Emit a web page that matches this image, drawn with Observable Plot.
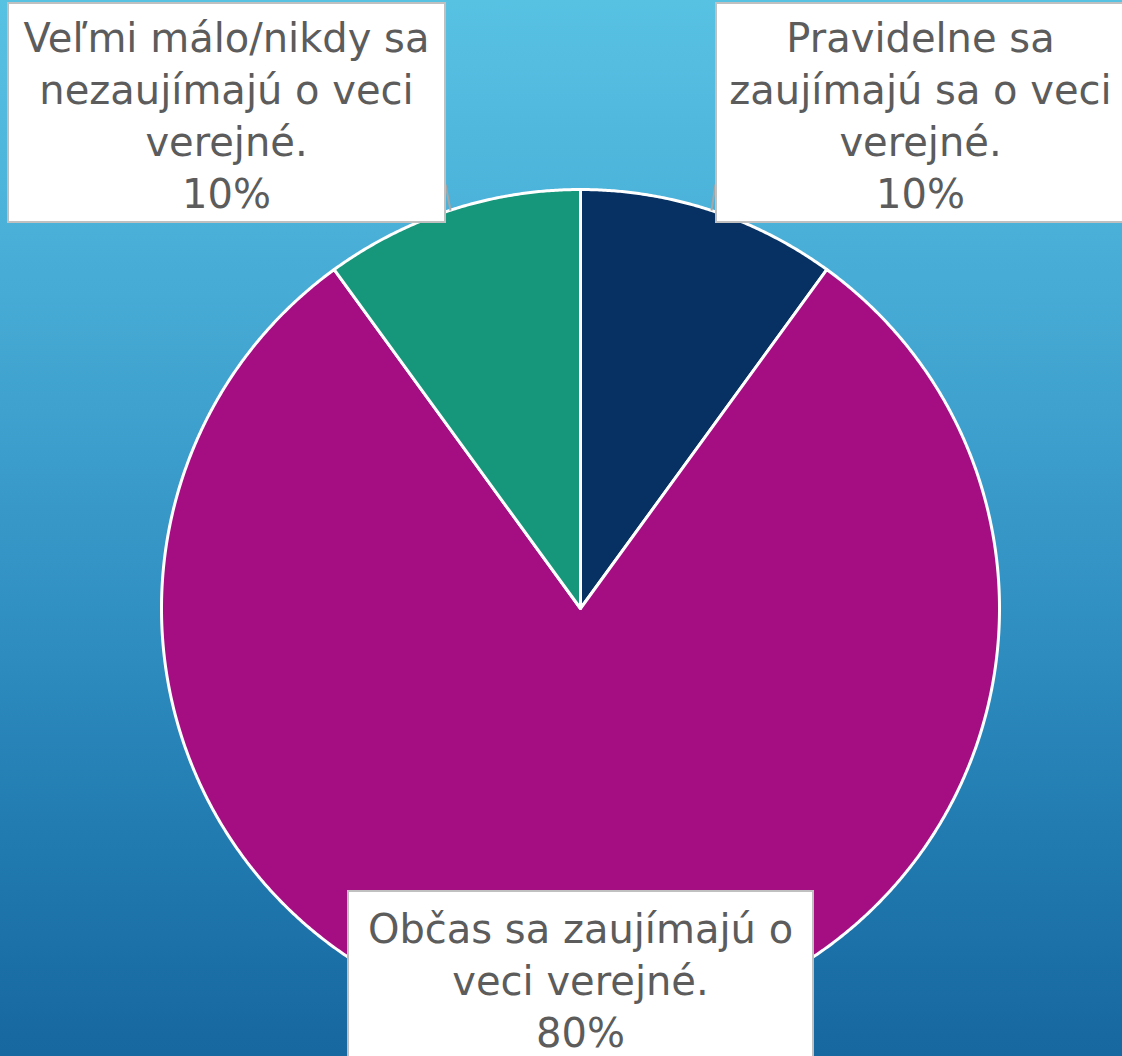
<!DOCTYPE html>
<html><head><meta charset="utf-8">
<script src="https://cdn.jsdelivr.net/npm/d3@7"></script>
<script src="https://cdn.jsdelivr.net/npm/@observablehq/plot@0.6"></script>
<style>
html,body{margin:0;padding:0;background:#1a6aa0;}
body{width:1122px;height:1056px;overflow:hidden;}
#chart svg{display:block;}
</style></head><body><div id="chart"></div>
<script>
// ---- data ----
const categories = ["Pravidelne", "Občas", "Veľmi málo/nikdy"];
const labels = [
  "Pravidelne sa\nzaujímajú sa o veci\nverejné.",
  "Občas sa zaujímajú o\nveci verejné.",
  "Veľmi málo/nikdy sa\nnezaujímajú o veci\nverejné."
];
const values = [10, 80, 10];
const colors = ["#073163", "#a50e82", "#16967a"];

// ---- layout (pixels) ----
const W = 1122, H = 1056;
const CX = 580, CY = 608, R = 419;
const boxes = [
  {x1: 716, y1: 3, x2: 1132, y2: 222, tx: 920, ty: 113, lead: [715, 184, 711, 210]},
  {x1: 348, y1: 891, x2: 813, y2: 1070, tx: 580, ty: 978, lead: null},
  {x1: 8, y1: 3, x2: 445, y2: 222, tx: 226, ty: 113, lead: [445, 184, 450, 210]}
];
const px = v => (v - CX) / R;
const py = v => (CY - v) / R;

// ---- slices ----
const arcs = d3.pie().sort(null).value(d => d)(values);
const pts = [];
arcs.forEach((a, i) => {
  const key = categories[i];
  pts.push({key, x: 0, y: 0});
  const n = Math.max(8, Math.ceil((a.endAngle - a.startAngle) / 0.005));
  for (let k = 0; k <= n; k++) {
    const t = a.startAngle + (a.endAngle - a.startAngle) * k / n;
    pts.push({key, x: Math.sin(t), y: Math.cos(t)});
  }
});

const labelData = categories.map((c, i) => ({
  key: c,
  text: labels[i] + "\n" + values[i] + "%",
  ...boxes[i]
}));
const leads = labelData.filter(d => d.lead);

const font = "DejaVu Sans";
const chart = Plot.plot({
  width: W, height: H,
  margin: 0,
  x: {domain: [px(0), px(W)], range: [0, W], axis: null},
  y: {domain: [py(H), py(0)], range: [H, 0], axis: null},
  color: {domain: categories, range: colors},
  style: {background: "linear-gradient(to bottom, #58c2e3 0%, #46abd5 28%, #3190c2 58%, #1f78ae 82%, #1767a0 100%)", fontFamily: font},
  marks: [
    Plot.line(pts, {x: "x", y: "y", z: "key", fill: "key", stroke: "white", strokeWidth: 3, curve: "linear-closed", strokeLinejoin: "round"}),
    Plot.link(leads, {x1: d => px(d.lead[0]), y1: d => py(d.lead[1]), x2: d => px(d.lead[2]), y2: d => py(d.lead[3]), stroke: "#a6a6a6", strokeWidth: 2}),
    Plot.rect(labelData, {x1: d => px(d.x1), x2: d => px(d.x2), y1: d => py(d.y1), y2: d => py(d.y2), fill: "white", stroke: "#c0c0c0", strokeWidth: 2}),
    Plot.text(labelData, {x: d => px(d.tx), y: d => py(d.ty), text: "text", fill: "#5c5c5c", fontSize: 40, lineHeight: 1.3, textAnchor: "middle", lineAnchor: "middle", fontFamily: font})
  ]
});
document.getElementById("chart").appendChild(chart);
</script>
</body></html>
